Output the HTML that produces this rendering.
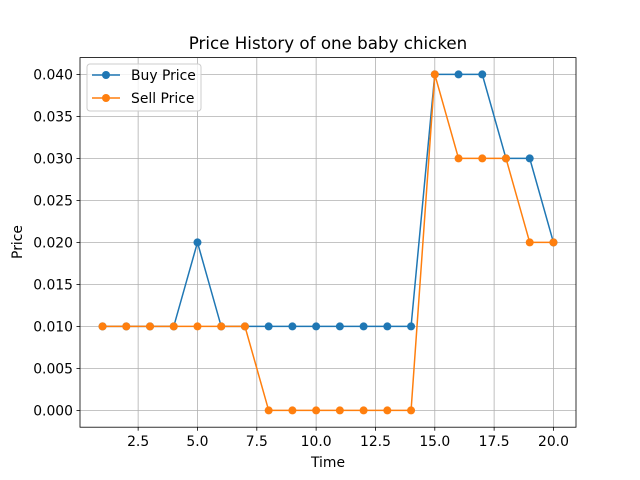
<!DOCTYPE html>
<html><head><meta charset="utf-8"><style>
body{margin:0;background:#fff;}
svg{display:block;font-family:"DejaVu Sans","Liberation Sans",sans-serif;}
</style></head><body>
<svg id="chart" width="640" height="480">
<rect width="640" height="480" fill="#fff"/>
<text x="328" y="49" text-anchor="middle" font-size="16.7">Price History of one baby chicken</text>
<g id="grid"></g>
<g id="series"></g>
<rect x="80" y="57.6" width="496" height="369.6" fill="none" stroke="#000" stroke-width="0.8"/>
<g id="axes"></g>
<text x="328" y="467" text-anchor="middle" font-size="13.9">Time</text>
<text transform="translate(22,242) rotate(-90)" text-anchor="middle" font-size="13.9">Price</text>
<g>
<rect x="87" y="64" width="114" height="47" rx="3" fill="#fff" fill-opacity="0.8" stroke="#ccc" stroke-width="1"/>
<g>
<line x1="92" y1="75" x2="120" y2="75" stroke="#1f77b4" stroke-width="1.5"/>
<circle cx="106" cy="75" r="4" fill="#1f77b4"/>
<text x="131" y="80" font-size="13.9">Buy Price</text></g>
<g>
<line x1="92" y1="98" x2="120" y2="98" stroke="#ff7f0e" stroke-width="1.5"/>
<circle cx="106" cy="98" r="4" fill="#ff7f0e"/>
<text x="131" y="103" font-size="13.9">Sell Price</text></g>
</g>
</svg>
<script>
const times=[1,2,3,4,5,6,7,8,9,10,11,12,13,14,15,16,17,18,19,20];
const buyPrice=[0.01,0.01,0.01,0.01,0.02,0.01,0.01,0.01,0.01,0.01,0.01,0.01,0.01,0.01,0.04,0.04,0.04,0.03,0.03,0.02];
const sellPrice=[0.01,0.01,0.01,0.01,0.01,0.01,0.01,0,0,0,0,0,0,0,0.04,0.03,0.03,0.03,0.02,0.02];
const xTicks=[2.5,5.0,7.5,10.0,12.5,15.0,17.5,20.0];
const yTicks=[0,0.005,0.01,0.015,0.02,0.025,0.03,0.035,0.04];
const L=80,R=576,T=57.6,B=427.2;
const xmin=0.05,xmax=20.95,ymin=-0.002,ymax=0.042;
const sx=v=>L+(v-xmin)/(xmax-xmin)*(R-L);
const sy=v=>B-(v-ymin)/(ymax-ymin)*(B-T);
const NS="http://www.w3.org/2000/svg";
function mk(tag,attrs,parent){const e=document.createElementNS(NS,tag);for(const k in attrs)e.setAttribute(k,attrs[k]);parent.appendChild(e);return e;}
const grid=document.getElementById('grid'),axes=document.getElementById('axes'),ser=document.getElementById('series');
xTicks.forEach(t=>{const x=sx(t);
const g=mk('line',{x1:x,x2:x,y1:T,y2:B,stroke:'#b0b0b0','stroke-width':0.8},grid);


mk('line',{x1:x,x2:x,y1:B,y2:B+3.5,stroke:'#000','stroke-width':0.8},axes);
const tx=mk('text',{x:x,y:B+19,'text-anchor':'middle','font-size':13.9},axes);tx.textContent=t.toFixed(1);

});
yTicks.forEach(t=>{const y=sy(t);
const g=mk('line',{x1:L,x2:R,y1:y,y2:y,stroke:'#b0b0b0','stroke-width':0.8},grid);


mk('line',{x1:L-3.5,x2:L,y1:y,y2:y,stroke:'#000','stroke-width':0.8},axes);
const tx=mk('text',{x:L-7,y:y+5,'text-anchor':'end','font-size':13.9},axes);tx.textContent=t.toFixed(3);

});
function draw(vals,color,name){
const pts=times.map((t,i)=>sx(t)+','+sy(vals[i])).join(' ');
const pl=mk('polyline',{points:pts,fill:'none',stroke:color,'stroke-width':1.5},ser);


times.forEach((t,i)=>{const c=mk('circle',{cx:sx(t),cy:sy(vals[i]),r:4,fill:color},ser);

});}
draw(buyPrice,'#1f77b4','buy-price');
draw(sellPrice,'#ff7f0e','sell-price');
</script>
</body></html>
